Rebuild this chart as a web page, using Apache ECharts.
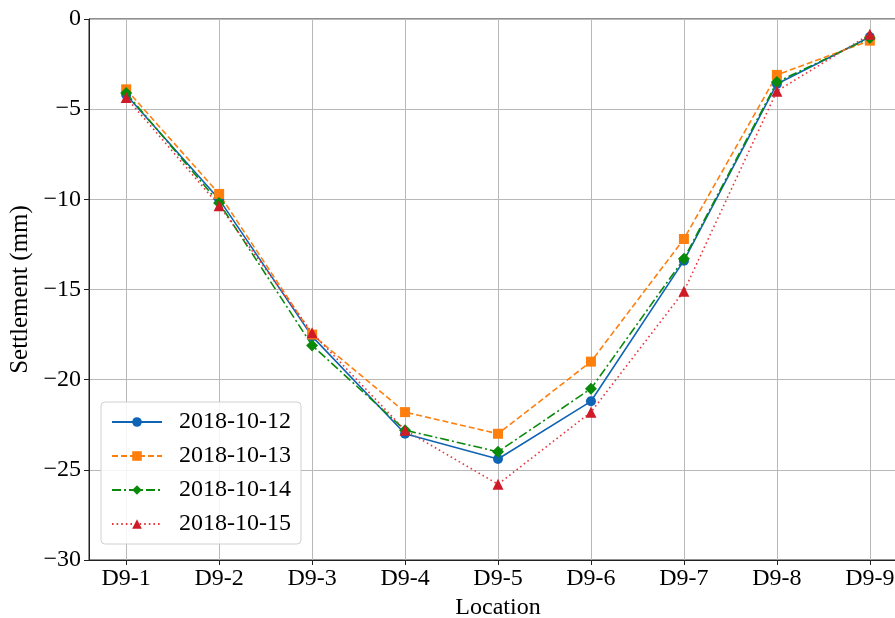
<!DOCTYPE html>
<html>
<head>
<meta charset="utf-8">
<script src="https://cdn.jsdelivr.net/npm/echarts@6/dist/echarts.min.js"></script>
<style>
  html, body { margin: 0; padding: 0; background: #fff; }
  #chart { width: 895px; height: 618px; }
</style>
</head>
<body>
<div id="chart"></div>
<script>
const categories = ['D9-1', 'D9-2', 'D9-3', 'D9-4', 'D9-5', 'D9-6', 'D9-7', 'D9-8', 'D9-9']
const d1012 = [-4.2, -10.0, -17.6, -23.0, -24.4, -21.2, -13.4, -3.6, -1.0]
const d1013 = [-3.9, -9.7, -17.5, -21.8, -23.0, -19.0, -12.2, -3.1, -1.2]
const d1014 = [-4.1, -10.2, -18.1, -22.8, -24.0, -20.5, -13.3, -3.5, -1.05]
const d1015 = [-4.35, -10.35, -17.4, -22.8, -25.8, -21.8, -15.1, -4.0, -0.85]
const yTicks = [0, -5, -10, -15, -20, -25, -30]

const font = 'Liberation Serif'
const xIdx = categories.map((_, i) => i)
const chart = echarts.init(document.getElementById('chart'))

function pts(vals) {
  return vals.map((v, i) => [i, v])
}

function line(name, vals, color, lineType, symbol, size, symColor) {
  return {
    name: name,
    type: 'line',
    data: pts(vals),
    symbol: symbol,
    symbolSize: size,
    lineStyle: { color: color, width: 1.6, type: lineType },
    itemStyle: { color: symColor || color },
    emphasis: { disabled: true },
    z: 3
  }
}

chart.setOption({
  animation: false,
  textStyle: { fontFamily: font },
  grid: {
    left: 89, top: 19, width: 818, bottom: 58,
    containLabel: false,
    outerBoundsMode: 'none',
    show: true, borderColor: '#222', borderWidth: 1
  },
  legend: {
    orient: 'vertical',
    left: 101,
    top: 402,
    itemWidth: 50,
    itemHeight: 12,
    itemGap: 10,
    padding: [8, 10, 8, 10],
    borderColor: '#d0d0d0',
    borderWidth: 1,
    borderRadius: 4,
    backgroundColor: 'rgba(255,255,255,0.85)',
    textStyle: { fontFamily: font, fontSize: 24, color: '#000', padding: [0, 0, 0, 12] },
    data: ['2018-10-12', '2018-10-13', '2018-10-14', '2018-10-15']
  },
  xAxis: {
    type: 'value',
    min: -0.4,
    max: 8.4,
    name: 'Location',
    nameLocation: 'middle',
    nameGap: 32,
    nameTextStyle: { fontFamily: font, fontSize: 24, color: '#000' },
    axisLine: { show: true, onZero: false, lineStyle: { color: '#222', width: 1 } },
    axisTick: { show: true, inside: false, length: 5, customValues: xIdx, lineStyle: { color: '#222' } },
    axisLabel: {
      fontFamily: font, fontSize: 24, color: '#000', margin: 7,
      customValues: xIdx,
      formatter: v => categories[Math.round(v)] || ''
    },
    splitLine: { show: true, lineStyle: { color: '#b8b8b8', width: 1 } }
  },
  yAxis: {
    type: 'value',
    min: -30,
    max: 0,
    interval: 5,
    name: 'Settlement (mm)',
    nameLocation: 'middle',
    nameGap: 49,
    nameTextStyle: { fontFamily: font, fontSize: 25, color: '#000' },
    axisLine: { show: true, onZero: false, lineStyle: { color: '#222', width: 1 } },
    axisTick: { show: true, inside: false, length: 5, lineStyle: { color: '#222' } },
    axisLabel: {
      fontFamily: font, fontSize: 24, color: '#000', margin: 8,
      formatter: v => yTicks.includes(v) ? String(v).replace('-', '\u2212') : ''
    },
    splitLine: { show: true, lineStyle: { color: '#b8b8b8', width: 1 } }
  },
  series: [
    line('2018-10-12', d1012, '#0f64b4', 'solid', 'circle', 10),
    line('2018-10-13', d1013, '#ff7f0e', [6, 3], 'rect', 10),
    line('2018-10-14', d1014, '#0a8a0a', [9, 3, 2, 3], 'diamond', 12),
    line('2018-10-15', d1015, '#e8383f', [1.6, 3], 'triangle', 11, '#cf1b27')
  ]
})
</script>
</body>
</html>
